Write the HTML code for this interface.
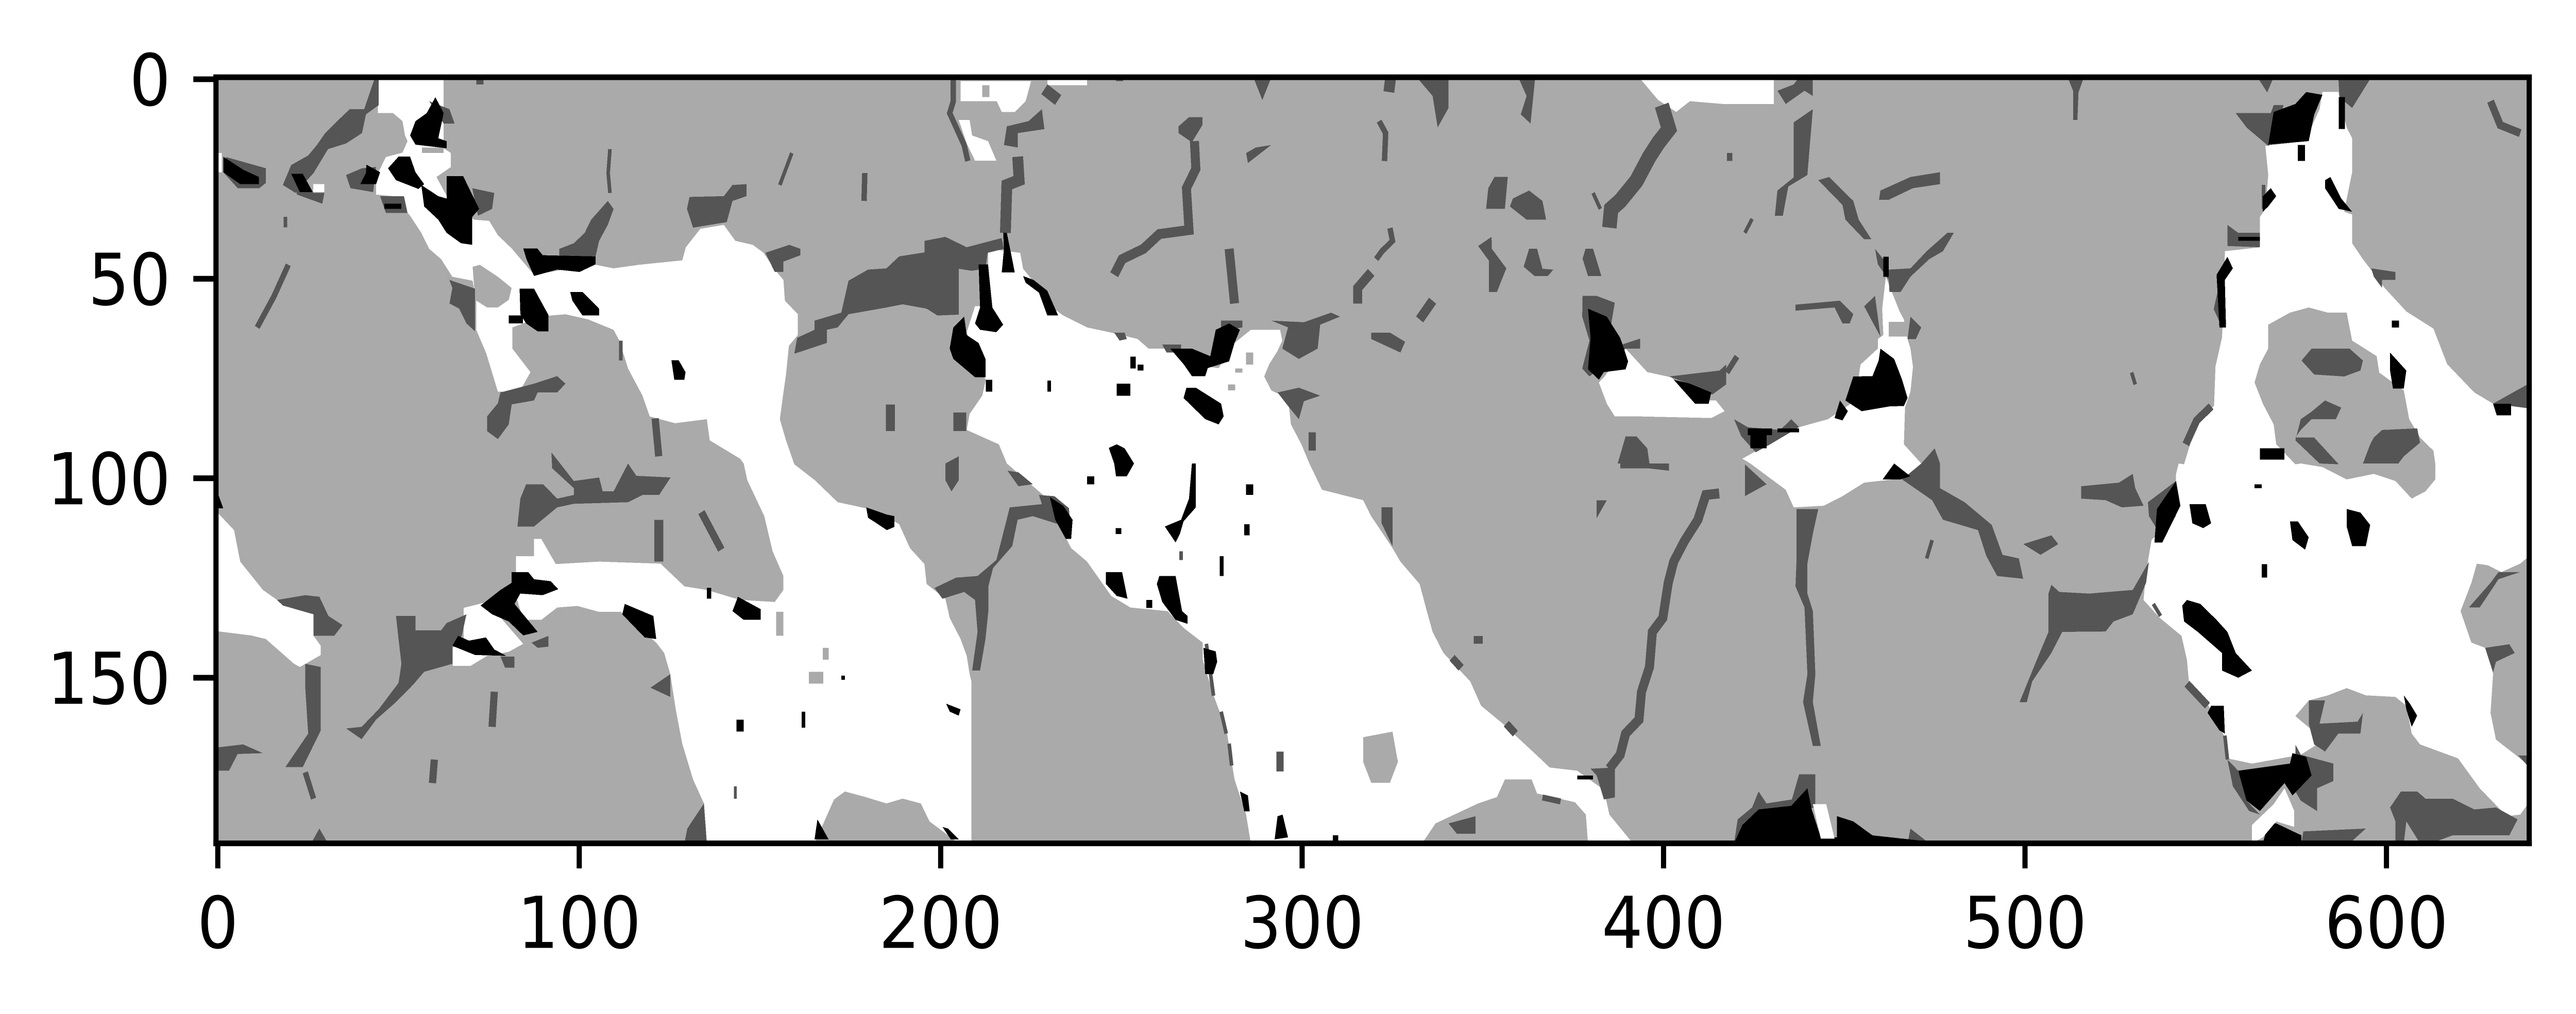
<!DOCTYPE html>
<html lang="en">
<head>
<meta charset="utf-8">
<title>Segmented micrograph</title>
<style>
html,body{margin:0;padding:0;background:#fff;width:100%;height:100%;overflow:hidden;}
svg{display:block;width:100vw;height:100vh;}
text{font-family:"DejaVu Sans","Liberation Sans",sans-serif;font-size:138.9px;fill:#000;}
</style>
</head>
<body>
<svg id="chart" xmlns="http://www.w3.org/2000/svg" viewBox="0 0 5522 1969" preserveAspectRatio="none">
<defs><clipPath id="plot-clip"><rect x="463" y="150" width="4959" height="1487"/></clipPath></defs>
<g id="image" clip-path="url(#plot-clip)" shape-rendering="crispEdges"></g>
<g id="axes"></g>
</svg>
<script>
// Image size in cells and tick values
const imageColumns = 640;
const imageRows = 192;
const xTicks = [0, 100, 200, 300, 400, 500, 600];
const yTicks = [0, 50, 100, 150];
const phaseColors = ["#000000", "#555555", "#aaaaaa", "#ffffff"];

// Phase 3 (white): outlines as column,row pairs
const whiteRegions = [
[45,0,63,0,63,17.8,65,19,65,22.5,61,25,64,30,71.4,35.7,75.6,36,78,39.6,81.8,42.9,88,49.5,104.5,46.9,110,47.9,117,47,129,45.9,130,42.6,134,38,140.5,37,143.7,41,148.5,42,151.5,44,154.6,48.2,157,50.8,157.4,56,161,59.4,161,64.6,158.5,67.3,157.7,74.5,157,79,156,85.7,157.7,91,160,97,165.7,101,172,106.5,179.7,108,187,111,189,112,192,118,196,122,196.6,127,201.8,130.7,203,135.5,206,140.8,207.7,145,208.5,149.6,209,151.4,209,192,205.5,192,197.4,186.5,195,182,190,180.8,185.5,182,179.7,180.4,174,179,171,181,165.6,192,135.8,192,135,182,132,176,129,167,127.2,158.4,125.7,149.6,124,144.3,121.8,141.7,112,134,106,134,100,132.5,94.4,132.9,90,136,85,136,83,130,83,120,88,120,88,115.7,90,115.7,94,122,106,121.4,123,121.9,129.6,127.6,135.8,128.5,145,131,154.6,131.5,157,128.5,157,125,154,118.8,151.7,110,147,101,146,96.8,145,95.6,136.6,91,135.8,85.7,127,86.7,120,85,118,79.8,114,73,111.6,66,110,63.3,103,60.7,96.7,59.4,92.8,59.7,90,60,82,62.7,82,68,87,73.9,84,78.8,78,78.8,74.8,69.3,72,63.3,72,56,71,51,65.4,50,62.3,45.6,59,43,56.8,39,53.7,34.7,49,29.8,44.3,29.4,44.3,25,47,20,51.6,18.9,53,16,52.3,14.6,51.6,11,49,9,44.8,9],
[68.5,133,75,131.5,85,142,81,144,75,145,70.5,147.5,65.5,147.5,65.5,143,68.5,141],
[0,108.7,5,113.5,6.7,121.4,13,128.5,16.9,131,27,134.6,27,140,29,142.5,29,144.8,23.2,147.8,21.6,147,13.8,140.8,9.7,139.9,0,138.8],
[206,1,225.5,1,224,6,221,8.7,217.4,8.7,216,6,206,6],
[205.5,10.7,208.5,10.7,209.2,14.6,213.6,16,215.9,20.9,210,20.9,207.7,16.6],
[213.6,43,222.5,44,223.3,48,226,51,230,56.8,234.4,59.7,241,62.7,247.7,64,255,65.6,258,68,264,68,268.5,71.9,277.4,72.9,281.8,66.6,286.3,63.3,294.4,63.3,295,66,293.7,68.6,291.4,71.9,290,75,292,78.5,296.6,80.5,297.4,87,300.3,92,302.5,96.8,306,103.4,317.4,106,319.6,110,325.5,118,327.7,121.4,333,127,335,133.8,336.6,139,339.6,144.3,347,151.4,350,157.5,356,162,365.5,170,369,173,376.6,173.8,384,178.6,385.5,184.8,392,192,286.3,192,285,184.8,281.8,176,279.6,163.7,276,154.9,273,146,273,141.7,267.7,138,263.3,133.8,253,132.9,247.7,130,241,121.4,236.6,118,233,111.8,230,105.6,218.8,96.8,216.6,92,207.7,88.4,208.5,84.4,212,79.8,213,75.8,210.7,72.5,207.7,63.9,210,57.4,214.4,57.4,213.6,48.9],
[393.7,0,431,0,431,6.7,417,6.7,407.8,6,404,8.7,399,5.7],
[384,75.2,390,68,396,73.9,402.6,75.2,409.2,81,415,81,417.4,83.7,413.7,85.4,393.7,85,387,85,384.8,81.8,382.6,76.5],
[462,50,465.8,58.7,467,60.7,468,65.6,468.8,68,469.5,72.6,468.8,78.8,467.3,82.8,467,92,471.8,96.8,476.3,96.8,468.8,100.3,456,101.6,450,105,444.8,107.4,436.5,107.8,434.3,103.4,424.5,96.8,422.3,95.6,438,87.7,446,85.7,452,82,454,78,455,72,459.8,68,459.8,65.6,461.3,64.6,461,58],
[582.8,3.7,587.2,3.7,589.5,12.6,591,15.3,591,23.8,588.8,33.7,591,34.4,591,41.6,594,45.6,600,52.8,606,58.7,613.5,63,617.3,71.9,624.8,79,630,81.8,640,83,640,120,637.5,121.9,632.3,124,628.5,122.3,625.5,121.9,624,126.7,621,133.8,624,141.7,629,143.4,630,149.6,629.3,159.3,630.8,166,640,172.5,640,181.7,637.5,184.8,633.8,185.2,626.3,178.2,620.3,170.7,609.8,167.2,607.5,164.5,606,157.5,603,155.3,594.8,154.9,589.5,153.1,584.3,154.9,579,156.2,575.3,160.1,580,163.7,581.3,167.2,576.8,169.8,563.3,172,556.5,170.7,555.8,165.4,551.3,157.5,546,153,545.3,146,543.8,140,537.8,135.5,533.3,131,534,124,535.5,116,542.3,110,542.3,99.4,543,96.8,544.5,97,548.3,85.7,552.8,82.4,553.2,72.5,555,65.3,555.5,56.7,555.8,43.6,565.5,42.6,565.5,35,567,33,567.8,24.5,567,17.2,578,16,582,8]
];

// Phase 3 (white) small cells: col0,row0,col1,row1
const whiteBoxes = [
[230,0.5,241,2],[0.6,19,1.6,23.8]
];

// Phase 3 (white) pieces that sit on top of the black phase
const whiteOverRegions = [
[441.8,182.2,445.5,182.2,447.8,190.8,444,190.8],
[572.3,178.2,575,183.9,575,187.9,570,186.5,566.3,190.5,563.3,192,563.3,187.4,569.3,182.2],
[26.9,26.8,30,26.8,30,28.8,26.9,28.8]
];

// Phase 2 (grey) islands that sit inside white
const grayRegions = [
[71,47.5,73,47,78,50,81.8,52.8,81,55.8,78,57.7,75,57.7,71.7,55.8],
[317.4,165.4,325.5,164,327,171.6,324.8,176.8,319.6,176.8,317.4,171.6],
[379.6,192,379,184.8,376,181.7,365.5,179.5,364,176,356.6,176,354.4,180.4,349.2,182,337.4,187,333.7,192],
[567.8,62,573.8,59,579,57.7,584.3,59,589.5,59,591,66,597.8,69.9,598.5,74,605.3,78.5,606.8,85.7,609.8,90.3,613.5,93.6,614,96.8,614,100.8,611.3,103.8,607.5,105.6,603,101.2,597,99.4,589.5,100.8,582.8,97.7,576.8,96.8,575.3,97,570,92,569.3,87,566.3,81.8,564,76.5,565.5,71.9,567.8,68]
];

// Phase 2 (grey) small cells
const grayBoxes = [
[57,17.6,63,19],[155,134,157,140],[167.9,143,169.5,146],[164,149,168,152],[462.8,61.3,468.8,65],
[285,69,287,72],[282,73,284,74],[280,77,282,78.5],[265,2,267,4],[212,2,214,5]
];

// Phase 1 (dark grey) outlines
const darkRegions = [
[44,0,45,0,45,7,41.5,9.3,40.4,14,36,16.6,31,18,27,24,22,29,18.5,27,20.8,22,25.5,19.6,27.9,17,30.2,14,34,10.6,37,8,41,8,42.5,4],
[2.8,20,13.8,22.8,13.8,26.5,12,27.8,6,27.8,2,23.8],
[20.8,23.8,27,29,30,29,29.4,31.7,22.4,29.4],
[40.4,22.8,36,24.5,37.2,27.8,43.5,28.8,44.3,22.5],
[45.4,29.8,52,29.8,53,34,47,34],
[70.9,27.8,77,29,76.4,33,72.5,34.7],
[59,6,64.6,8,66,11.6,63,11.6],
[108.4,31,110,33,108.4,37,106,41,105,45,95,45,95,43,99,41.6,102,39,103.8,35.7],
[131,30,140.5,29.8,142.9,27,146.8,26.8,146.8,29.8,142.9,31,141.3,36.3,132,37.7,130.3,33],
[158.6,42,161.7,43,161.7,44.6,157,46.2,157,48.8,154.6,48.8,152,44],
[175,51,180.4,48.2,185.5,47.9,189,44.9,196,43.9,196,41,201.8,40,207.7,42.6,217.4,40.3,218,43,213.5,44,212.9,48,209,48.5,205.5,48,205.5,59.5,199.6,59.7,196.6,58,190,56.9,185.5,57.7,175,59.4,172,62.7,169,63.3,169,66.6,160,69.3,160.8,65.3,165.6,63.3,165.6,61,173,59],
[63,47,64.6,50.8,71.7,53,71.7,63.7,69.3,61.7,67.3,58,64.6,56.7,65.4,52.8],
[78.7,79,88,76.8,94.4,74.9,96.7,76.8,94.4,79,89,79,88,81,81.8,82,81,87,78,90.7,75,88.7,75,85,78,81.7],
[92.8,94,99,101.2,106,100.3,107,103.8,110,103.8,114,96.8,116.3,99.9,125.8,100.3,122.6,104.7,118,104.7,114,106.5,99,106.9,94.4,107.8,88,112.6,83.4,112.6,84.2,105.6,85.8,102,90.5,102,94.4,105.6,99,104.7,99,103,93,98],
[49.8,135,55.2,135,55.2,138.6,62.3,138.6,63.8,136.8,69.3,134.6,68,140,65.4,142.5,65.4,147,57.6,149,54.6,152.2,49.8,156.6,44.3,161,40.3,165.9,36,163.2,40.3,162.8,45,158.4,50.5,151.8,51.3,147,50.5,140.8],
[16.9,131,24.7,129.8,28.6,130.2,31.1,135,35,137.3,32.7,140,27,140,27,134.6,18.5,132.4],
[24.7,147,29,147.8,29,163.7,24,172.9,19.2,172.9,25.5,164.5,24.7,153],
[0,168,7.5,167.2,13,169.4,6,169.6,3.6,173.8,0,173.8],
[120.2,153,125.7,149.6,125.7,155.3],
[129.6,192,130.4,188.3,135,182,135.8,192],
[26.3,192,28.6,188.3,31,192],
[87.3,141.7,92,140,92,142.7,89,143],
[78.7,145.2,82.6,145.2,82.6,148,80,148],
[218.8,12.3,224.8,11,228.5,8,229.2,13,221.8,14,221.8,17.6,218,17],
[287,0,292,0,289.5,5.7],
[332.2,0,341,0,341,7.7,338,12.6,336.6,4.7],
[360.3,0,365,0,363.7,11.6,361,9.3,362.6,4.7],
[269.2,10,272.9,10,272.9,12,270,16.3,266.3,14,266.3,12.3],
[287.7,17.6,291.9,17,285.5,21.5,285,19],
[353.7,25,357.4,25,356.6,33,351.4,33,352,27.8],
[363.3,28.4,367,31,368,35.7,362.6,35.7,358,32.4,358.8,30.4],
[352.9,40,349.2,42.3,352.2,46,352.2,48.2,352.2,53.8,354.4,53.8,357,47.9,353,43],
[363.3,43,365.5,43,367,48,370,48.2,368.5,49.8,364.8,49.8,361.8,47.5],
[378.9,43,381,43,383.3,49.8,379.6,49.8,378.1,45.5],
[319.6,64,324.8,64,329,66.3,327.7,69,319.6,65.6],
[292,61,301,61.4,308.5,59,311,60,305.5,62,304.8,68,299.6,70.6,295,68,296.6,62.7],
[278.1,61,284,61,284,62.7,278.1,63.5],
[261.8,67,267,67,267,69,263,69],
[248.5,64,251.4,64,252,65.6,250,66],
[293.7,79,299.6,77.8,305.5,79.8,301,81.2,299.6,85.7,296.6,82.4],
[390,90,393,90,396,93,396.6,96.8,387.8,96.8],
[201.8,96.8,205.5,95,205.5,101,203.5,103.8,201.8,101],
[219,98.6,222,99,226,102,222,102.5],
[388.5,96.8,402,96.8,402,98.6,396,98,388.5,98],
[198.8,128,204.8,125.4,210.7,125,215.9,121,217.4,115.7,219.6,107.8,228.5,107,227.7,104.7,232,105,236,108,236.6,115.7,233,112,226,110,221.8,110.9,220.3,117.5,215,123,213.7,127.6,213.7,133.8,212.9,140.8,211.4,148.7,209.2,148.7,210.7,139,210,131,207,129,201,130.7],
[378.1,54.8,382,54.8,387,56.5,386,62,389,67,394,65.5,394,68,390,68,380,75,378,73,380,66,378,60],
[402,75,416,73.5,417.8,72,417.8,77,414,79.5,408,77],
[380.3,173.3,387,173,387,180.5,384,181,382,175],
[322.5,107.8,325.5,107.8,325.5,117.5,322.5,111.8],
[382,106,384.8,106,382,110.5],
[341,187,348.5,185.2,348.5,189.6,343.3,189.6],
[441.8,0,441.8,4.7,439.5,3.4,434.3,6.7,432,3.4,436.5,1.8,438,0],
[512.3,0,516.8,0,515.3,3.8,515,10.7,513.8,10.7,513.8,3.4],
[564.8,0,569.3,0,567.5,3.8],
[587.2,0,596.3,0,591,7.7,587.5,5],
[436.5,11.3,441.8,8,441,16.6,440.3,24.5,435,27.4,433.5,34.7,431.3,34.7,432,28.4,436.5,25.1,436.5,16.6],
[443.3,25.8,446.3,25,453,31,454.5,35.7,458,40.6,456,40.6,450.8,35.7,450,32],
[460.5,28.4,468.8,25,477,23.8,477,26.8,469.5,27.8,462.8,30.7,460.1,30.7],
[459,43,461.3,45.6,462.8,48.2,468.8,47.9,473.3,43.6,479,39,480.8,39,477.8,43.6,474,45.6,468.8,50,466.1,53.8,463,53.8,462.8,50.8,459.8,46.9],
[437,57,449.3,56,453,59.4,452,61.7,450,61.7,447.8,57.7,437,58.5],
[456,57.4,459,54.8,460.5,65,458.3,61.3],
[468.8,60,471.8,62.7,470.3,65.6,468,65.6],
[558.8,9,568.5,9,569.3,7,572,7,570,15,567.8,17.2,561.8,12.6],
[639.5,77,640,83,630,81.8,634.5,79.5],
[556.5,37,559.5,39,565.5,39,565.5,42.6,556.5,42.3],
[596.3,47.9,603,48.8,603,50.8,599.3,50.8,599.3,52.8,597,50],
[420,85.7,423.8,87.7,432.8,88.4,435.8,85.7,438,87.7,430,92,426,94,422,90],
[471.8,96.8,475.5,93,477,96.8],
[579.8,68,590.3,68,594,71,593.3,73.5,588.8,75,580.5,74.5,577,71],
[583.5,81,588,82.8,586.5,85.7,579.8,85.7,576.8,88.4,575.3,90.3,580.5,90.3,587.3,97,582,96.8,575.3,91,576.8,85.7,579.8,83.8],
[597,90.3,599.3,88.4,609,88,609.8,91.6,605.3,95,603.8,96.8,594,96.8,596,92],
[423,97,429,102,423,105],
[471.8,96.8,477,96.8,477,103,483.8,106.5,491.3,112.2,494.3,119.7,498.8,120.6,500,125.7,492.8,125,489.8,120,487.5,113.5,477.8,110.9,474.8,106,466.5,100.8],
[437.3,108.2,443.3,108.2,441.8,114.4,440.3,121.9,440.3,129.4,441.8,133.8,442.5,149.6,441.8,156.6,444,167.6,441.8,167.6,439.1,156.6,440.3,149.6,439.5,132.9,437,127.6,437.3,120.6,437.3,114.4],
[516,102.5,526.5,101.6,530.3,99.4,531,103,533.3,107.4,527.3,107.8,522.8,106,516,105.6],
[534.5,106.5,542.3,101.2,543.5,107.4,537.8,114.4,534.8,110],
[500,117,507.8,114.8,509.7,117,504.8,119.7],
[507.8,127.2,510,129,518.3,129.4,530.3,128.5,534.8,121.4,534,126.7,530.3,134.6,525,136.4,522.8,138.9,510.8,139,507.8,144.3,502.5,151.4,501,156.6,499,156.6,503.3,147,507,139,507,129.4],
[438,174.7,442.5,174.7,442.5,183,436,184,426,186,422,192,420,192,421,186,425,183,426.8,179,429,182,436,181],
[468.8,188.3,474,192,468,192],
[556.5,171,559.5,173.8,561.8,181.3,565.5,184.8,562.5,183.9,558,177.7],
[575.3,167.2,576.8,169.8,585.8,172,585.8,176.4,581.3,178.2,581.3,183.9,576.8,181.3,575.3,179],
[577.5,189,594.8,188.3,590.3,192,577,192],
[601.5,183,604.5,179,609,179,611.3,180.8,618.8,180.8,624.8,183.5,630.8,183,636.8,186,634.5,190,618.8,190,612.8,192,609.8,192,606,186.5,605.3,192,603,192,603,186.5],
[579,156.2,583.5,156.2,582,162,592.5,161.5,594,159.3,593.3,164.5,587.2,164.5,583.5,169,580.5,167.2,579,162],
[623.3,132.9,629.3,126.7,631.5,124,637.5,124,631.5,125.8,626.3,132.9],
[627.8,143,634.5,142.1,636,144.3,630.8,146.5,630,149.2],
[637,170,640,170,640,173]
];

// Phase 1 (dark grey) thin cracks: width, then column,row pairs
const darkCracks = [
[1,109,18,108.5,24,109,29],
[1.5,179.5,24,179.3,31],
[1,159.3,19,156,27],
[1.5,20,47,16,55,11.4,62.7],
[1,19.2,35,19.2,37.6],
[2,73,0,73,1.8],
[2,121.5,85.5,122.5,95],
[1,112,66,112,71],
[2,134.3,109,139.8,118.4],
[2.5,122.5,110.9,122.5,121.4],
[2,77,154,76.4,162.8],
[2,60.4,171,59.9,176.9],
[1.5,24.7,174.2,27,180.8],
[0.8,143.7,177.7,143.7,180.8],
[1.5,204,0,204,6,203,9,205,13,207,17,208,21],
[3,221.8,19.9,222.2,25.8,218.8,27,218.4,39],
[2,250,0,250,1],
[3,229.2,3,233,5.7],
[3,325,0,324.5,3.7],
[2.5,270.7,16,271.1,23,268.5,27.8,269.2,38.3,261,39.3,256.6,43,250.7,45.6,248.5,49.5],
[1.5,321.8,11,323.6,14,323.3,21],
[4,400,7,402,13,399,16.5,396.5,20,393,26,388.5,31,386,33,385.5,37.7],
[1,381,29,383,33],
[1.5,324.8,37.8,325.5,41,322.6,43.6,321,45.6],
[2.5,319.6,48.9,315.9,52.8,315.9,56.7],
[2.5,280.3,43,281.8,56.7],
[2.5,336.6,56,333,60.7],
[2,303.3,89,303.3,93.6],
[2.5,186.6,82,186.6,88.7],
[3.5,205.8,84,205.8,88.7],
[1,267,118.8,267,121],
[1,278.1,159,279.5,164.5],
[1,280.3,167,281,172.5],
[1,274,142,276,155],
[2,294.4,169,294.4,174],
[2.5,415.9,104.3,412.2,104.7,410,110.9,406.3,116.2,403.3,121.4,401.8,126.7,400.3,135.5,397.4,139,396.6,147.8,394.4,154,393.7,161,390,164.5,388.5,169.8,385.5,173.3],
[2,348,141,350.5,141],
[2,342,145.5,344.5,148],
[2,357,162,359.5,164.5],
[1.5,367,180.5,372,181.5],
[1,425,35.5,423,39],
[1.5,418.8,19,418.8,21],
[1,530,74,531,77],
[1.5,420.8,70,418,74],
[2,629.3,6,632,12,637.5,14],
[2,545,92,548,86,552,82.5],
[1,566.5,27,566.5,33],
[1.5,555,52,553.5,58,555.5,62],
[1,474.8,116,473.3,120.6],
[1,536,132,538,135],
[2,545.3,152,551,157.5],
[1,555.8,165,556.5,171]
];

// Phase 0 (black) outlines
const blackRegions = [
[60.7,5,63,9,61.5,15.3,63.8,16,63.8,17.8,55.2,16.9,53.7,14.6,55.2,11,58.3,9],
[2,19.9,7.6,23.2,11.9,25,11.9,26.8,6.7,26.8,2,23.8],
[20.8,24.2,24,24.2,26.8,28.8,23.2,28.8],
[41.6,21.9,45.4,23.8,44.3,26.8,39.9,26.8,41.5,24],
[50.5,19.9,53.7,19.9,55.2,23.8,57.6,26.8,56,28,49.8,25.8,47.6,22.8],
[63.8,24.8,68.4,24.8,72.8,33,70.9,35,70.9,42,67.8,41.6,63.8,39,61.5,35.7,57.6,32.4,56.8,27,61.5,29.8,63.8,30.4],
[85,42.9,88.9,42.9,90.4,44.6,105,44.9,105,46.9,100.6,48.8,94.4,48.2,88,49.8,85.9,45.6],
[84,53,88,53,92,59.6,92,63.7,89,63.7,85.8,61.7,84.2,59.4],
[98,53.8,101.4,53.8,106,58,106,59.7,101.4,59.7,98.6,56],
[126,70.9,128,70.9,129.9,73.9,129.6,75.8,126.8,75.8],
[81.8,124,86.4,124,88,125.8,92.6,126.3,94.7,128.3,90.4,129.8,84.2,129.4,82.6,132,89,139,85,139.9,81,136.4,76.4,134.6,73.2,132.4,78.7,128.5,81.8,126.7],
[70,141.2,74.7,140.4,77,143.4,80.3,145,71.7,144.8,65.4,142.5,67,140],
[113.1,132,121,135,121.8,140.8,118.6,140.4,112.4,134.6],
[144.4,130.2,150.7,133.3,150.7,136,146,136,142.9,133.8],
[179.9,107.8,185.6,109.6,187.7,110,187.7,112.7,185.6,113.5,182.8,111.8,180.4,110.4],
[166.4,186,169.5,191,165.6,191],
[0,103,2,108,0,108],
[217.8,39,218.8,39,219.9,43.9,221,48.9,217.4,48.9,218,43],
[211,46.9,213.6,46.9,214.8,57.7,217.8,62,215.9,63.9,211.4,63.3,210,61.7,211.4,57.7],
[204,62.7,207,60,207.7,64.6,211,66.6,212.9,70.6,212.9,75.2,210,75.2,204,70.6,203,68],
[223.3,49.8,226.2,50.8,230,53.5,233,59.7,230,59.7,227.7,54,224,51.5],
[264,68,270,68,275.1,69.9,276.6,63.3,280.3,61.7,283.3,63.3,281.8,66.6,280.3,71.2,274.4,72.9,273.7,74.9,270,74.9,267.7,71.9],
[268.5,77.8,271.1,77.8,278.1,81.8,278.8,85,277.4,87,273.7,85.7,267.7,80.4],
[247,92.9,249.2,92,251.4,93,254,96.8,252,100,249,100,248.5,96.8],
[379.6,58,384.8,60,388.5,65.3,390.7,71.2,390,73.2,384,73.9,382.6,75.8,379.6,73.2,380.3,65.3],
[403.3,75.8,407.8,76.8,413.7,79,413,81.8,409.2,81.8],
[230.7,105.2,234.4,107.4,237,110.9,236.6,115.7,235.1,115.7,232.2,110.9],
[270,96.8,271.1,96.8,271.1,107.8,267.7,111.3,266.7,114.4,265.5,116.6,262.5,112.6,267,110.9,269.2,105.6],
[246.2,124,250.7,124,252.2,130.7,249.2,130,246.2,127],
[261,125,265.5,125,267.3,133.8,268.8,135,268.8,137,265.5,136,261.8,131.5,260.3,127],
[273.2,143,276.6,143.9,277,146.5,275.9,149.6,273.7,149.6],
[202,157,206,158.4,205.5,160,203,159],
[283.3,179,285.5,180,286,184,284.5,184],
[292.9,191,293.7,185.2,295.1,184.8,296.6,190.5],
[201,187.9,202.5,188.3,205.5,191,203.3,191],
[556.5,45,558,47.9,555.8,50.8,556.1,62.7,554.3,62.7,553.5,49.5],
[568.5,27.8,570,29.8,567.8,32.4,566.3,33.7,566.3,29.8],
[583.5,25.8,585,25,588,30.4,591,33.7,587.3,33,583.5,27.8],
[578.3,3.7,582.8,4.4,580.5,9.4,579,16,567.8,16.9,569.3,8.7,575.3,6.7],
[601.5,69,606,73.5,605.3,78,602.3,78,601.5,73.5],
[630,81.8,635,81.8,635,84.7,631,84.7],
[460.5,68,464.3,70.6,466.5,75.8,468,80.4,467,82.4,463,82.5,455.3,83.7,450.8,81,453,75,458.3,74.9,460,71],
[449.3,81,451.5,83.7,450,86,447.8,85.4],
[461.1,100.8,464.3,96.8,468.8,100,466,100.8],
[542.3,101.2,543.5,107.4,538.5,116.6,536.3,116.6,537,108.2],
[422.3,187.4,426.8,183.5,435.8,182.6,440.3,178.2,441.5,183.5,444,190.5,448.5,190.5,448.5,185.2,453,186.5,458.3,190,478.5,192,420,192],
[559.5,173.8,573.8,172,574.5,169.4,578.3,170.3,579.8,175,574.5,180,572.3,176.9,565.5,183.9,561.8,181.3],
[567.8,187,570,187,577,190,577,192,566.3,192],
[546,107,550.5,107,552,111.8,549.8,113,546.8,111.8],
[573.8,111.3,576,111.3,579,115.3,578,118.4,574.5,116],
[589.5,108.2,593.3,109.1,596,112.2,594.8,117.5,591,117.5,589.5,112.6],
[545.3,131,549,132,553.5,136,556.5,139,558.8,144.3,563.3,148.7,559.5,150.5,555,148.7,555,144.3,548.3,139,544.5,136.4,544,132.4],
[552,157.5,555.5,157.5,555.8,164.5,554.3,163.7,551,159.3],
[605.3,154.9,607,157,609,160,607.5,162.8,606,158.4]
];

// Phase 0 (black) small cells
const blackBoxes = [
[46.6,31.7,51.3,33],[81,59.7,84.9,61.7],[135.8,128,137,130.7],[285,102,287,104.7],[284.5,112,286,114.8],
[241,100,243,102],[248.9,113,250.5,114.5],[277.7,120,278.8,125],[257.4,131,259,133],[213,75.8,214.8,78.8],
[249.2,76.8,253,79.8],[230,76,231,78.8],[253,70,254.5,73],[255,72,256.6,73.5],[376.6,175,381,176],
[559.5,40,565.5,41],[576,17,578,21],[602,61,604,62.7],[565.5,93,572.3,95.8],[587.3,5,589,13],
[423.8,88,430.5,89.7],[424.5,89.7,429,93],[432,88,438,89],[564,102,566,103],[566,122,567.5,125.4],[173,150,174,151],
[162,159,163,163],[144,161,146,164],[461.3,45,462.8,50],[309,190,310.5,192]
];

// Scales: fractional cell position to page coordinates
const cellSize = 7.748;
const plotLeft = 463;
const plotTop = 150;
function xScale(c) { return plotLeft + c * cellSize; }
function yScale(r) { return plotTop + r * cellSize; }

const NS = "http://www.w3.org/2000/svg";
const imageLayer = document.getElementById("image");
const axesLayer = document.getElementById("axes");

function toPoints(flat, start) {
  const out = [];
  for (let i = start; i + 1 < flat.length; i += 2) {
    out.push(xScale(flat[i]).toFixed(1) + "," + yScale(flat[i + 1]).toFixed(1));
  }
  return out.join(" ");
}
function drawRegion(flat, color, name) {
  const el = document.createElementNS(NS, "polygon");
  el.setAttribute("points", toPoints(flat, 0));
  el.setAttribute("fill", color);
  
  
  imageLayer.appendChild(el);
}
function drawBox(b, color, name) {
  const el = document.createElementNS(NS, "rect");
  el.setAttribute("x", xScale(b[0]));
  el.setAttribute("y", yScale(b[1]));
  el.setAttribute("width", (b[2] - b[0]) * cellSize);
  el.setAttribute("height", (b[3] - b[1]) * cellSize);
  el.setAttribute("fill", color);
  
  
  imageLayer.appendChild(el);
}
function drawCrack(c, color, name) {
  const el = document.createElementNS(NS, "polyline");
  el.setAttribute("points", toPoints(c, 1));
  el.setAttribute("fill", "none");
  el.setAttribute("stroke", color);
  el.setAttribute("stroke-width", c[0] * cellSize);
  
  
  imageLayer.appendChild(el);
}
function drawLine(x1, y1, x2, y2, name) {
  const el = document.createElementNS(NS, "line");
  el.setAttribute("x1", x1);
  el.setAttribute("y1", y1);
  el.setAttribute("x2", x2);
  el.setAttribute("y2", y2);
  el.setAttribute("stroke", "#000");
  el.setAttribute("stroke-width", 11.1);
  el.setAttribute("stroke-linecap", "square");
  
  
  axesLayer.appendChild(el);
}
function drawTick(x1, y1, x2, y2, name) {
  const el = document.createElementNS(NS, "line");
  el.setAttribute("x1", x1);
  el.setAttribute("y1", y1);
  el.setAttribute("x2", x2);
  el.setAttribute("y2", y2);
  el.setAttribute("stroke", "#000");
  el.setAttribute("stroke-width", 11.1);
  
  
  axesLayer.appendChild(el);
}
function drawLabel(x, y, anchor, value, name) {
  const el = document.createElementNS(NS, "text");
  el.setAttribute("x", x);
  el.setAttribute("y", y);
  el.setAttribute("text-anchor", anchor);
  el.textContent = value;
  
  
  axesLayer.appendChild(el);
}

// Background phase
drawBox([0, 0, imageColumns, imageRows], phaseColors[2], "grain-background");
whiteRegions.forEach(function (r) { drawRegion(r, phaseColors[3], "pore-region"); });
whiteBoxes.forEach(function (b) { drawBox(b, phaseColors[3], "pore-cells"); });
grayRegions.forEach(function (r) { drawRegion(r, phaseColors[2], "grain-island"); });
grayBoxes.forEach(function (b) { drawBox(b, phaseColors[2], "grain-cells"); });
darkRegions.forEach(function (r) { drawRegion(r, phaseColors[1], "clay-region"); });
darkCracks.forEach(function (c) { drawCrack(c, phaseColors[1], "clay-crack"); });
blackRegions.forEach(function (r) { drawRegion(r, phaseColors[0], "dense-region"); });
blackBoxes.forEach(function (b) { drawBox(b, phaseColors[0], "dense-cells"); });
whiteOverRegions.forEach(function (r) { drawRegion(r, phaseColors[3], "pore-sliver"); });

// Axes
const plotRight = xScale(imageColumns);
const plotBottom = yScale(imageRows);
drawLine(plotLeft, plotTop, plotRight, plotTop, "top-spine");
drawLine(plotLeft, plotBottom, plotRight, plotBottom, "bottom-spine");
drawLine(plotLeft, plotTop, plotLeft, plotBottom, "left-spine");
drawLine(plotRight, plotTop, plotRight, plotBottom, "right-spine");
xTicks.forEach(function (t) {
  const x = xScale(t + 0.5);
  drawTick(x, plotBottom, x, plotBottom + 48.6, "x-tick");
  drawLabel(x, plotBottom + 203, "middle", String(t), "x-tick-label");
});
yTicks.forEach(function (t) {
  const y = yScale(t + 0.5);
  drawTick(plotLeft, y, plotLeft - 48.6, y, "y-tick");
  drawLabel(plotLeft - 97.2, y + 50.6, "end", String(t), "y-tick-label");
});
</script>
</body>
</html>
